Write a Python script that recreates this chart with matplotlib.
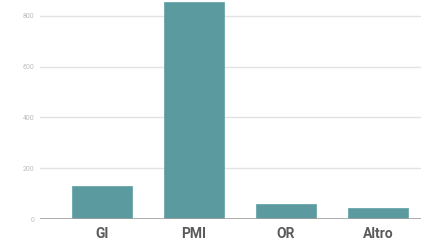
import matplotlib.pyplot as plt

# data
categories = ['GI', 'PMI', 'OR', 'Altro']
values = [131, 856, 59, 42]
y_ticks = [0, 200, 400, 600, 800]

fig = plt.figure(figsize=(4.21, 2.41), dpi=100)
# axes placed in pixel terms: left 40px, bottom 22px, full width/top
ax = fig.add_axes([40 / 421, 22 / 241, 381 / 421, 219 / 241])

x = range(len(categories))
ax.bar(x, values, width=0.65, color='#5b9a9f', edgecolor='#6aa6aa',
       linewidth=0.6, zorder=3)

ax.set_xlim(-0.674, 3.467)
ax.set_ylim(0, 863)
ax.set_yticks(y_ticks)
ax.set_yticklabels([str(t) for t in y_ticks])
ax.set_xticks(list(x))
ax.set_xticklabels(categories)

ax.grid(axis='y', color='#e3e3e3', linewidth=1, zorder=0)
ax.axhline(0, color='#a0a0a0', linewidth=1.2, zorder=4)

for s in ax.spines.values():
    s.set_visible(False)

ax.tick_params(axis='y', length=0, pad=4, labelsize=5, labelcolor='#bdbdbd')
ax.tick_params(axis='x', length=0, pad=6, labelsize=10, labelcolor='#5a5a5a')
for lab in ax.get_xticklabels():
    lab.set_fontfamily('Roboto')
    lab.set_fontweight('bold')
for lab in ax.get_yticklabels():
    lab.set_fontfamily('Roboto')

fig.savefig('out.png', dpi=100)
